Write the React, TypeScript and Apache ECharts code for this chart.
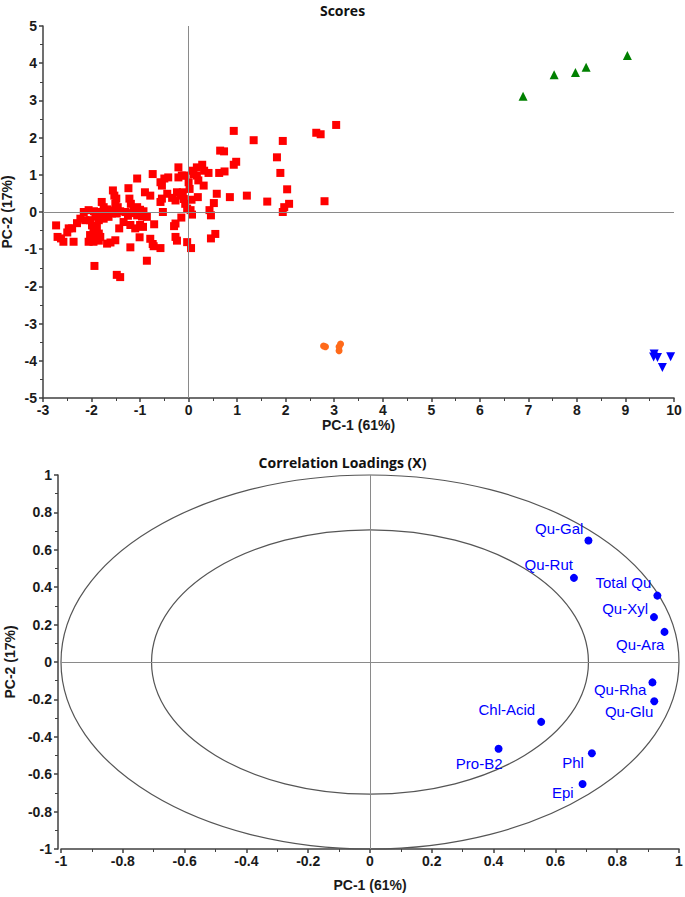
import React, { useEffect, useRef } from "react";
import * as echarts from "echarts";

// ---------- Scores data ----------
const groupRed: number[][] = [
  [0.93, 2.18], [1.34, 1.93], [1.94, 1.91], [2.63, 2.13], [2.72, 2.09], [3.04, 2.34],
  [0.65, 1.65], [0.73, 1.63], [1.82, 1.47], [0.93, 1.27], [0.98, 1.35], [1.89, 1.05],
  [2.03, 0.61], [2.8, 0.29], [2.07, 0.22], [1.97, 0.13], [1.94, 0.0], [1.62, 0.28],
  [1.2, 0.44], [0.85, 0.4], [0.58, 0.49], [0.52, 0.24], [0.43, 0.05], [0.46, -0.09],
  [0.55, -0.59], [0.46, -0.71], [0.74, 1.09], [0.63, 1.05],
  [0.28, 1.27], [0.17, 1.2], [0.32, 1.11], [0.41, 1.05], [0.1, 1.02], [0.07, 1.11],
  [0.31, 0.71], [0.17, 0.98], [0.2, 0.85], [0.0, 0.8], [0.02, 0.62], [-0.09, 0.98],
  [-0.21, 1.2], [-0.21, 0.93], [-0.14, 0.98], [0.19, 0.4], [0.06, 0.33],
  [-0.12, 0.53], [-0.17, 0.44], [-0.1, 0.35], [-0.07, 0.22], [-0.03, 0.09], [0.04, 0.05], [0.07, -0.07],
  [-0.24, 0.53], [-0.34, 0.38], [-0.27, 0.31],
  [-0.42, 0.93], [-0.5, 0.9], [-0.58, 0.8], [-0.55, 0.71],
  [-0.44, 0.49], [-0.55, 0.36], [-0.58, 0.27],
  [-0.74, 1.02], [-1.06, 0.9], [-0.9, 0.53], [-0.79, 0.44],
  [-0.53, 0.0], [-0.15, -0.15], [-0.27, -0.31], [-0.3, -0.38], [-0.27, -0.67], [-0.24, -0.77],
  [-0.03, -0.81], [0.05, -0.97], [-0.71, -0.33],
  [-0.79, -0.72], [-0.74, -0.86], [-0.72, -0.92], [-0.58, -0.97], [-0.86, -1.31],
  [-1.24, 0.64], [-1.22, 0.36], [-1.19, 0.22],
  [-1.06, 0.13], [-1.0, 0.06], [-0.93, 0.02], [-1.13, 0.04], [-1.2, -0.03], [-1.06, -0.09], [-0.96, -0.12], [-0.86, -0.13],
  [-1.2, -0.35], [-1.1, -0.44], [-1.0, -0.35], [-0.94, -0.4], [-1.01, -0.68], [-1.2, -0.95],
  [-1.34, -0.27], [-1.43, -0.44], [-1.51, -0.76], [-1.61, -0.82], [-1.68, -0.85],
  [-1.48, -1.69], [-1.41, -1.75], [-1.94, -1.45],
  [-1.56, 0.58], [-1.53, 0.44], [-1.49, 0.36], [-1.51, 0.22], [-1.46, 0.13],
  [-1.79, 0.27], [-1.75, 0.13], [-1.68, 0.07], [-1.61, 0.0], [-1.54, 0.04],
  [-2.16, 0.0], [-2.06, 0.05], [-1.95, 0.02], [-1.89, 0.0], [-1.82, -0.04], [-1.68, -0.04], [-1.58, -0.04], [-1.48, -0.04], [-1.41, 0.02],
  [-2.23, -0.18], [-2.13, -0.22], [-2.03, -0.22], [-1.92, -0.13], [-1.85, -0.22], [-1.75, -0.18], [-1.65, -0.13],
  [-1.99, -0.36], [-1.89, -0.4], [-1.96, -0.53], [-1.85, -0.58], [-2.03, -0.62], [-1.92, -0.71], [-1.82, -0.67], [-2.06, -0.8], [-1.96, -0.8], [-1.85, -0.77],
  [-2.73, -0.36], [-2.7, -0.67], [-2.63, -0.71], [-2.58, -0.8], [-2.47, -0.44], [-2.4, -0.44], [-2.37, -0.8],
  [-1.3, 0.0], [-1.25, -0.1], [-2.3, -0.3], [-2.5, -0.55],
];
const groupGreen: number[][] = [
  [6.89, 3.11], [7.53, 3.69], [7.97, 3.75], [8.19, 3.89], [9.04, 4.21],
];
const groupOrange: number[][] = [
  [2.82, -3.62], [2.78, -3.6], [3.13, -3.55], [3.1, -3.73], [3.1, -3.62],
];
const groupBlue: number[][] = [
  [9.59, -3.82], [9.58, -3.9], [9.66, -3.91], [9.93, -3.89], [9.76, -4.18],
];

// ---------- Correlation loadings data ----------
const loadingNames = [
  "Qu-Gal", "Qu-Rut", "Total Qu", "Qu-Xyl", "Qu-Ara", "Qu-Rha",
  "Qu-Glu", "Chl-Acid", "Pro-B2", "Phl", "Epi",
];
const loadingPC1 = [0.707, 0.66, 0.93, 0.919, 0.953, 0.914, 0.92, 0.554, 0.416, 0.718, 0.688];
const loadingPC2 = [0.65, 0.45, 0.355, 0.24, 0.161, -0.109, -0.21, -0.32, -0.464, -0.488, -0.652];
const ellipseRadii = [1, 0.707];

// label placement (style only): offset of label's right edge / vertical centre from the dot
const labelOffsets: number[][] = [
  [-5, -12], [-1, -13], [-6, -13], [-6, -9], [0, 13], [-6, 7],
  [-1, 10], [-6, -12], [4, 15], [-8, 9], [-9, 9],
];

const tickFont = {
  fontFamily: "'Liberation Sans', Arial, sans-serif",
  fontWeight: "bold" as const,
  fontSize: 14,
  color: "#1a1a1a",
};
const axisLineStyle = { color: "#404040", width: 1.5 };

function makeAxis(min: number, max: number, interval: number, name: string, gridIndex: number, nameGap: number, isY: boolean, fmt?: (v: number) => string) {
  return {
    type: "value",
    gridIndex,
    min,
    max,
    interval,
    name,
    nameLocation: "middle",
    nameGap,
    nameTextStyle: { ...tickFont, fontSize: 14 },
    axisLine: { show: true, onZero: false, lineStyle: axisLineStyle },
    axisTick: { show: true, length: 4, lineStyle: axisLineStyle },
    minorTick: { show: true, splitNumber: 2, length: 3, lineStyle: { color: "#404040", width: 1 } },
    splitLine: { show: false },
    axisLabel: { ...tickFont, margin: isY ? 6 : 5, formatter: fmt },
  };
}

const fmtDec = (v: number) => {
  const r = Math.round(v * 10) / 10;
  return String(r);
};

export default function App() {
  const ref = useRef<HTMLDivElement>(null);
  useEffect(() => {
    if (!ref.current) return;
    const chart = echarts.init(ref.current, null, { renderer: "svg" });

    const zeroLine = {
      silent: true,
      symbol: "none",
      label: { show: false },
      lineStyle: { color: "#8a8a8a", width: 1, type: "solid" },
      data: [{ xAxis: 0 }, { yAxis: 0 }],
      animation: false,
    };

    const option: any = {
      animation: false,
      backgroundColor: "#ffffff",
      title: [
        {
          text: "Scores",
          left: "center",
          top: -2,
          textStyle: { fontFamily: "'Open Sans', 'Noto Sans', sans-serif", fontWeight: "bold", fontSize: 14, color: "#111" },
        },
        {
          text: "Correlation Loadings (X)",
          left: "center",
          top: 450,
          textStyle: { fontFamily: "'Open Sans', 'Noto Sans', sans-serif", fontWeight: "bold", fontSize: 14, color: "#111" },
        },
      ],
      grid: [
        { left: 43, right: 11, top: 26, bottom: 499, containLabel: false, outerBoundsMode: "none" },
        { left: 61, right: 6, top: 475, bottom: 48, containLabel: false, outerBoundsMode: "none" },
      ],
      xAxis: [
        makeAxis(-3, 10, 1, "PC-1 (61%)", 0, 16, false),
        makeAxis(-1, 1, 0.2, "PC-1 (61%)", 1, 29, false, fmtDec),
      ],
      yAxis: [
        { ...makeAxis(-5, 5, 1, "PC-2 (17%)", 0, 23, true) },
        { ...makeAxis(-1, 1, 0.2, "PC-2 (17%)", 1, 37, true, fmtDec), offset: 3 },
      ],
      series: [
        {
          type: "scatter",
          xAxisIndex: 0,
          yAxisIndex: 0,
          symbol: "rect",
          symbolSize: 8,
          itemStyle: { color: "#ff0000", opacity: 1 },
          data: groupRed,
          markLine: zeroLine,
          z: 3,
        },
        {
          type: "scatter",
          xAxisIndex: 0,
          yAxisIndex: 0,
          symbol: "triangle",
          symbolSize: 9,
          itemStyle: { color: "#008000", opacity: 1 },
          data: groupGreen,
          z: 3,
        },
        {
          type: "scatter",
          xAxisIndex: 0,
          yAxisIndex: 0,
          symbol: "circle",
          symbolSize: 7,
          itemStyle: { color: "#ff6a1a", opacity: 1 },
          data: groupOrange,
          z: 3,
        },
        {
          type: "scatter",
          xAxisIndex: 0,
          yAxisIndex: 0,
          symbol: "triangle",
          symbolRotate: 180,
          symbolSize: 9,
          itemStyle: { color: "#0000ff", opacity: 1 },
          data: groupBlue,
          z: 3,
        },
        {
          type: "custom",
          xAxisIndex: 1,
          yAxisIndex: 1,
          silent: true,
          data: ellipseRadii.map((r) => [r, 0]),
          renderItem: (_params: any, api: any) => {
            const r = api.value(0);
            const c = api.coord([0, 0]);
            const px = api.coord([r, 0]);
            const py = api.coord([0, r]);
            return {
              type: "ellipse",
              shape: { cx: c[0], cy: c[1], rx: px[0] - c[0], ry: c[1] - py[1] },
              style: { fill: "none", stroke: "#555555", lineWidth: 1.2 },
            };
          },
          markLine: zeroLine,
          z: 1,
        },
        {
          type: "scatter",
          xAxisIndex: 1,
          yAxisIndex: 1,
          symbol: "circle",
          symbolSize: 8,
          itemStyle: { color: "#0000ff", opacity: 1 },
          data: loadingNames.map((n, i) => ({
            name: n,
            value: [loadingPC1[i], loadingPC2[i]],
            label: {
              show: true,
              formatter: n,
              position: [4 + labelOffsets[i][0], 4 + labelOffsets[i][1]],
              align: "right",
              verticalAlign: "middle",
              color: "#0000ff",
              fontFamily: "'Liberation Sans', Arial, sans-serif",
              fontSize: 15,
            },
          })),
          z: 4,
        },
      ],
    };
    chart.setOption(option);
    return () => chart.dispose();
  }, []);

  return (
    <div
      ref={ref}
      style={{ position: "fixed", left: 0, top: 0, width: 685, height: 897, background: "#fff" }}
    />
  );
}
